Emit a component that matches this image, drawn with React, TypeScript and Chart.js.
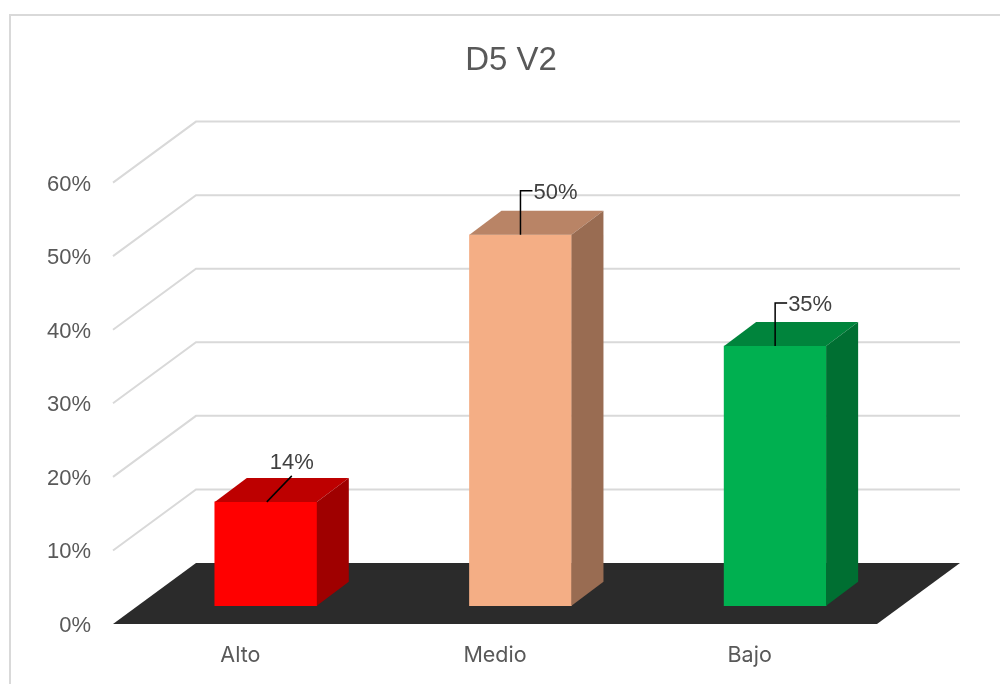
import React, { useEffect, useRef } from "react";
import { Chart, registerables } from "chart.js";

Chart.register(...registerables);

const categories = ["Alto", "Medio", "Bajo"];
const values = [14, 50, 35];
const frontColors = ["#FF0000", "#F4AE85", "#00B050"];
const topColors = ["#BD0000", "#B98466", "#00843C"];
const sideColors = ["#9F0000", "#996C52", "#006F32"];
const titleText = "D5 V2";

const FONT = "'Liberation Sans', Arial, sans-serif";
const DEPTH_X = 83;
const DEPTH_Y = 61;
const BAR_DX = 32;
const BAR_DY = 24;
const LEADER_RISE = [26, 44, 43];

function poly(ctx: CanvasRenderingContext2D, pts: number[][], fill: string) {
  ctx.beginPath();
  pts.forEach((p, i) => (i ? ctx.lineTo(p[0], p[1]) : ctx.moveTo(p[0], p[1])));
  ctx.closePath();
  ctx.fillStyle = fill;
  ctx.fill();
}

const scene = {
  id: "scene",
  beforeDraw(chart: any) {
    const { ctx, width, height } = chart;
    ctx.save();
    ctx.strokeStyle = "#D9D9D9";
    ctx.lineWidth = 2;
    ctx.beginPath();
    ctx.moveTo(10, height);
    ctx.lineTo(10, 15);
    ctx.lineTo(width, 15);
    ctx.stroke();
    ctx.restore();
  },
  beforeDatasetsDraw(chart: any) {
    const { ctx, chartArea } = chart;
    const y = chart.scales.y;
    const { left, right } = chartArea;
    ctx.save();
    ctx.strokeStyle = "#D9D9D9";
    ctx.lineWidth = 2;
    y.ticks.forEach((t: any) => {
      if (t.value === 0) return;
      const py = y.getPixelForValue(t.value);
      ctx.beginPath();
      ctx.moveTo(left, py);
      ctx.lineTo(left + DEPTH_X, py - DEPTH_Y);
      ctx.lineTo(right + DEPTH_X, py - DEPTH_Y);
      ctx.stroke();
    });
    const y0 = y.getPixelForValue(0);
    poly(
      ctx,
      [
        [left, y0],
        [right, y0],
        [right + DEPTH_X, y0 - DEPTH_Y],
        [left + DEPTH_X, y0 - DEPTH_Y],
      ],
      "#2B2B2B"
    );
    ctx.restore();
  },
  afterDatasetsDraw(chart: any) {
    const { ctx } = chart;
    const bars = chart.getDatasetMeta(0).data;
    ctx.save();
    bars.forEach((b: any, i: number) => {
      const l = b.x - b.width / 2;
      const r = b.x + b.width / 2;
      const t = b.y;
      const bt = b.base;
      poly(ctx, [[l, t], [r, t], [r + BAR_DX, t - BAR_DY], [l + BAR_DX, t - BAR_DY]], topColors[i]);
      poly(ctx, [[r, t], [r + BAR_DX, t - BAR_DY], [r + BAR_DX, bt - BAR_DY], [r, bt]], sideColors[i]);

      // leader line and value label
      const rise = LEADER_RISE[i];
      ctx.strokeStyle = "#000000";
      ctx.lineWidth = 1.5;
      ctx.beginPath();
      ctx.fillStyle = "#404040";
      ctx.font = `22px ${FONT}`;
      ctx.textBaseline = "middle";
      const label = `${values[i]}%`;
      if (i === 0) {
        ctx.moveTo(b.x + 1, t);
        ctx.lineTo(b.x + 26, t - rise);
        ctx.stroke();
        ctx.textAlign = "center";
        ctx.fillText(label, b.x + 26, t - rise - 13);
      } else {
        ctx.moveTo(b.x, t);
        ctx.lineTo(b.x, t - rise);
        ctx.lineTo(b.x + 12, t - rise);
        ctx.stroke();
        ctx.textAlign = "left";
        ctx.fillText(label, b.x + 13, t - rise + 2);
      }
    });
    ctx.restore();
  },
};

export default function App() {
  const ref = useRef<HTMLCanvasElement>(null);
  useEffect(() => {
    const chart = new Chart(ref.current as HTMLCanvasElement, {
      type: "bar",
      plugins: [scene],
      data: {
        labels: categories,
        datasets: [
          {
            data: categories.map((_, i) => ({ x: i, y: values[i] })),
            backgroundColor: frontColors,
            xAxisID: "x2",
            yAxisID: "y2",
            base: 0,
            barThickness: 102,
            borderWidth: 0,
          } as any,
        ],
      },
      options: {
        responsive: false,
        animation: false,
        layout: { padding: { left: 22, right: 0, top: 0, bottom: 0 } },
        plugins: {
          legend: { display: false },
          tooltip: { enabled: false },
          title: {
            display: true,
            text: titleText,
            color: "#595959",
            font: { family: FONT, size: 33, weight: "normal", lineHeight: 1.2 },
            padding: { top: 41, bottom: 102 },
          },
        },
        scales: {
          x: {
            type: "category",
            position: "bottom",
            grid: { display: false, drawTicks: false },
            border: { display: false },
            ticks: { color: "#595959", font: { family: "Inter, sans-serif", size: 21.5 }, padding: 18.5, maxRotation: 0 },
            afterFit: (s: any) => {
              s.height = 60;
            },
          },
          y: {
            type: "linear",
            position: "left",
            min: 0,
            max: 60,
            grid: { display: false, drawTicks: false },
            border: { display: false },
            ticks: {
              stepSize: 10,
              color: "#595959",
              font: { family: FONT, size: 22 },
              padding: 22,
              labelOffset: 2,
              callback: (v: any) => `${v}%`,
            },
            afterFit: (s: any) => {
              s.width = 91;
            },
          },
          spacer: {
            type: "linear",
            position: "right",
            grid: { display: false, drawTicks: false },
            border: { display: false },
            ticks: { display: false },
            afterFit: (s: any) => {
              s.width = 123;
            },
          },
          x2: { type: "linear", display: false, offset: false, grid: { offset: false }, min: -0.6, max: 2.4 },
          y2: { type: "linear", display: false, min: -2.46, max: 57.04 },
        },
      } as any,
    });
    return () => chart.destroy();
  }, []);
  return (
    <div style={{ position: "absolute", left: 0, top: 0, width: 1000, height: 684, background: "#fff" }}>
      <canvas ref={ref} width={1000} height={684} style={{ display: "block" }} />
    </div>
  );
}
